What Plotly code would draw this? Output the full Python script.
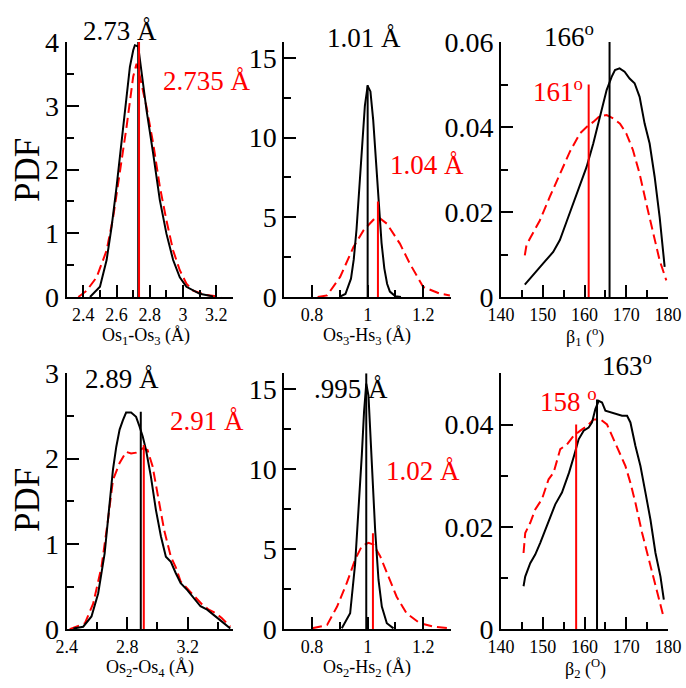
import plotly.graph_objects as go

# ---------------- data ----------------
# Panel 1: Os1-Os3
p1_black_x = [2.44, 2.50, 2.54, 2.57, 2.60, 2.63, 2.66, 2.68, 2.70, 2.71, 2.73, 2.75, 2.78, 2.82, 2.86, 2.90, 2.94, 2.98, 3.02, 3.10, 3.18]
p1_black_y = [0.0, 0.16, 0.58, 1.10, 1.73, 2.41, 3.09, 3.61, 3.87, 3.95, 3.93, 3.50, 2.93, 2.25, 1.52, 0.99, 0.58, 0.31, 0.16, 0.05, 0.01]
p1_red_x = [2.37, 2.42, 2.48, 2.54, 2.58, 2.62, 2.66, 2.70, 2.72, 2.74, 2.78, 2.82, 2.86, 2.90, 2.94, 2.98, 3.02, 3.06, 3.14, 3.23]
p1_red_y = [0.0, 0.10, 0.31, 0.73, 1.26, 1.94, 2.67, 3.46, 3.66, 3.46, 2.98, 2.41, 1.73, 1.20, 0.73, 0.42, 0.21, 0.10, 0.03, 0.0]

# Panel 2: Os3-Hs3
p2_black_x = [0.90, 0.92, 0.94, 0.95, 0.96, 0.97, 0.98, 0.99, 1.00, 1.01, 1.02, 1.03, 1.04, 1.05, 1.06, 1.07, 1.08, 1.10, 1.12]
p2_black_y = [0.02, 0.19, 1.15, 2.36, 4.25, 6.8, 9.6, 12.0, 13.25, 12.9, 11.1, 8.5, 5.7, 3.4, 1.8, 0.83, 0.34, 0.04, 0.0]
p2_red_x = [0.82, 0.854, 0.901, 0.949, 0.985, 1.021, 1.040, 1.069, 1.116, 1.152, 1.20, 1.26, 1.296]
p2_red_y = [0.0, 0.10, 1.26, 3.14, 4.18, 4.85, 5.0, 4.6, 3.35, 2.09, 0.63, 0.21, 0.10]

# Panel 3: beta1
p3_black_x = [145.7, 146.9, 148.5, 150.1, 152.5, 154.1, 155.7, 157.3, 158.9, 160.5, 162.1, 163.7, 165.3, 166.5, 167.3, 168.4, 169.6, 170.8, 172.0, 173.2, 174.4, 175.6, 176.8, 178.0, 179.2]
p3_black_y = [0.0029, 0.0043, 0.0063, 0.0079, 0.0106, 0.0134, 0.0177, 0.0220, 0.0259, 0.0306, 0.0361, 0.0424, 0.0487, 0.0518, 0.0534, 0.0538, 0.0530, 0.0514, 0.0503, 0.0471, 0.0408, 0.0361, 0.0283, 0.0188, 0.0071]
p3_red_x = [145.7, 146.1, 146.9, 149.3, 151.7, 154.1, 156.5, 158.9, 160.5, 162.1, 163.7, 165.3, 166.9, 168.5, 170.0, 171.6, 173.2, 174.8, 176.4, 178.0, 179.6]
p3_red_y = [0.0098, 0.0122, 0.0137, 0.0180, 0.0236, 0.0290, 0.0342, 0.0385, 0.0400, 0.0412, 0.0426, 0.0428, 0.0420, 0.0408, 0.0385, 0.0346, 0.0290, 0.0220, 0.0149, 0.0086, 0.0039]

# Panel 4: Os2-Os4
p4_black_x = [2.444, 2.509, 2.564, 2.608, 2.651, 2.684, 2.706, 2.728, 2.75, 2.772, 2.793, 2.826, 2.859, 2.881, 2.903, 2.925, 2.957, 2.99, 3.023, 3.056, 3.089, 3.121, 3.154, 3.198, 3.241, 3.285, 3.329, 3.373, 3.427, 3.482]
p4_black_y = [0.01, 0.03, 0.15, 0.42, 0.89, 1.44, 1.87, 2.14, 2.34, 2.45, 2.54, 2.54, 2.49, 2.38, 2.26, 2.10, 1.79, 1.40, 1.09, 0.85, 0.79, 0.66, 0.54, 0.46, 0.36, 0.27, 0.23, 0.17, 0.09, 0.01]
p4_red_x = [2.42, 2.466, 2.52, 2.575, 2.63, 2.673, 2.706, 2.75, 2.793, 2.826, 2.859, 2.903, 2.935, 2.968, 3.001, 3.045, 3.089, 3.121, 3.154, 3.198, 3.252, 3.296, 3.34, 3.384, 3.427, 3.482]
p4_red_y = [0.0, 0.03, 0.07, 0.30, 0.73, 1.28, 1.75, 1.95, 2.08, 2.06, 2.07, 2.12, 2.10, 1.91, 1.59, 1.16, 0.85, 0.73, 0.56, 0.48, 0.38, 0.29, 0.23, 0.19, 0.13, 0.03]

# Panel 5: Os2-Hs2
p5_black_x = [0.907, 0.937, 0.955, 0.967, 0.979, 0.987, 0.995, 1.003, 1.015, 1.027, 1.039, 1.051, 1.069, 1.093]
p5_black_y = [0.06, 1.0, 4.1, 7.3, 10.9, 13.6, 15.35, 14.6, 10.4, 6.2, 3.1, 1.42, 0.38, 0.06]
p5_red_x = [0.80, 0.854, 0.89, 0.925, 0.955, 0.979, 1.003, 1.021, 1.045, 1.075, 1.104, 1.14, 1.188, 1.236, 1.296]
p5_red_y = [0.06, 0.27, 1.42, 2.9, 4.36, 5.2, 5.4, 5.3, 4.57, 3.31, 2.05, 1.0, 0.38, 0.17, 0.06]

# Panel 6: beta2
p6_black_x = [145.4, 145.8, 147.0, 148.2, 149.4, 150.6, 151.8, 153.0, 154.6, 156.3, 157.5, 158.6, 159.8, 161.0, 161.8, 162.6, 163.4, 164.2, 165.0, 166.2, 167.4, 169.0, 170.2, 171.0, 172.2, 173.4, 174.6, 175.8, 177.0, 178.2, 179.0]
p6_black_y = [0.0084, 0.0103, 0.0129, 0.0146, 0.0169, 0.0195, 0.0221, 0.0244, 0.0267, 0.0306, 0.0339, 0.0371, 0.0388, 0.0394, 0.0404, 0.0430, 0.0446, 0.0443, 0.0427, 0.0424, 0.0420, 0.0417, 0.0417, 0.0404, 0.0358, 0.0319, 0.0267, 0.0214, 0.0149, 0.0103, 0.0058]
p6_red_x = [145.4, 145.8, 147.0, 148.2, 149.8, 151.4, 152.6, 154.2, 155.8, 157.4, 159.0, 160.6, 162.2, 163.8, 165.4, 167.0, 168.6, 169.8, 171.0, 172.2, 173.8, 175.4, 177.0, 178.2, 179.0]
p6_red_y = [0.0149, 0.0188, 0.0208, 0.0234, 0.0254, 0.0293, 0.0306, 0.0352, 0.0361, 0.0378, 0.0388, 0.0397, 0.0410, 0.0410, 0.0400, 0.0371, 0.0339, 0.0319, 0.0286, 0.0247, 0.0188, 0.0136, 0.0084, 0.0044, 0.0022]

# Vertical marker lines: (position, height) per panel
black_marks = [(2.73, 4.0), (1.0, 13.3), (166.0, 0.06), (2.89, 2.55), (0.995, 16.0), (163.0, 0.0449)]
red_marks = [(2.735, 4.0), (1.037, 6.0), (161.0, 0.05), (2.91, 2.16), (1.019, 6.0), (158.0, 0.04)]

black_labels = ["2.73 Å", "1.01 Å", "166<sup>o</sup>", "2.89 Å", ".995 Å", "163<sup>o</sup>"]
red_labels = ["2.735 Å", "1.04 Å", "161<sup>o</sup>", "2.91 Å", "1.02 Å", "158 <sup>o</sup>"]
x_titles = ["Os<sub>1</sub>-Os<sub>3</sub> (Å)", "Os<sub>3</sub>-Hs<sub>3</sub> (Å)", "β<sub>1</sub> (<sup>o</sup>)",
            "Os<sub>2</sub>-Os<sub>4</sub> (Å)", "Os<sub>2</sub>-Hs<sub>2</sub> (Å)", "β<sub>2</sub> (<sup>O</sup>)"]

x_ranges = [[2.3, 3.3], [0.7, 1.3], [140, 180], [2.4, 3.5], [0.7, 1.3], [140, 180]]
x_dticks = [(2.4, 0.2, 0.1), (0.8, 0.2, 0.1), (140, 10, 5), (2.4, 0.4, 0.2), (0.8, 0.2, 0.1), (140, 10, 5)]
y_ranges = [[0, 4], [0, 16], [0, 0.06], [0, 3], [0, 16], [0, 0.05]]
y_dticks = [(1, 0.5), (5, 2.5), (0.02, 0.01), (1, 0.5), (5, 2.5), (0.02, 0.01)]

# ---------------- figure ----------------
W, H = 686, 688
FONT = "Liberation Serif"
x_px = [(66.7, 233.0), (284.3, 451.0), (501.0, 668.0)]
y_px = [(42.0, 297.0), (373.3, 629.3)]

curves = [
    (p1_black_x, p1_black_y, p1_red_x, p1_red_y),
    (p2_black_x, p2_black_y, p2_red_x, p2_red_y),
    (p3_black_x, p3_black_y, p3_red_x, p3_red_y),
    (p4_black_x, p4_black_y, p4_red_x, p4_red_y),
    (p5_black_x, p5_black_y, p5_red_x, p5_red_y),
    (p6_black_x, p6_black_y, p6_red_x, p6_red_y),
]

fig = go.Figure()
layout = dict(template="none", width=W, height=H,
              margin=dict(l=0, r=0, t=0, b=0, pad=0, autoexpand=False),
              paper_bgcolor="white", plot_bgcolor="white", showlegend=False,
              font=dict(family=FONT, color="black"))

for i in range(6):
    r, c = divmod(i, 3)
    n = "" if i == 0 else str(i + 1)
    xa, ya = "x" + n, "y" + n
    bx, by, rx, ry = curves[i]
    fig.add_trace(go.Scatter(x=rx, y=ry, mode="lines", xaxis=xa, yaxis=ya,
                             line=dict(color="#ff0000", width=2, dash="10px,5px")))
    fig.add_trace(go.Scatter(x=bx, y=by, mode="lines", xaxis=xa, yaxis=ya,
                             line=dict(color="black", width=2)))
    bm, rm = black_marks[i], red_marks[i]
    fig.add_trace(go.Scatter(x=[bm[0], bm[0]], y=[0, bm[1]], mode="lines", xaxis=xa, yaxis=ya,
                             line=dict(color="black", width=2)))
    fig.add_trace(go.Scatter(x=[rm[0], rm[0]], y=[0, rm[1]], mode="lines", xaxis=xa, yaxis=ya,
                             line=dict(color="#ff0000", width=2)))
    x0, x1 = x_px[c]
    y0, y1 = y_px[r]
    t0, dt, mdt = x_dticks[i]
    ydt, ymdt = y_dticks[i]
    layout["xaxis" + n] = dict(domain=[x0 / W, x1 / W], range=x_ranges[i], anchor=ya, automargin=False,
                               showline=True, linewidth=2, linecolor="black", showgrid=False, zeroline=False,
                               ticks="inside", ticklen=12, tickwidth=2, tickcolor="black",
                               tick0=t0, dtick=dt, tickfont=dict(size=18, family=FONT, color="black"),
                               minor=dict(ticks="inside", ticklen=7, tickwidth=2, tickcolor="black",
                                          dtick=mdt, tick0=t0, showgrid=False))
    layout["yaxis" + n] = dict(domain=[1 - y1 / H, 1 - y0 / H], range=y_ranges[i], anchor=xa, automargin=False,
                               showline=True, linewidth=2, linecolor="black", showgrid=False, zeroline=False,
                               ticks="inside", ticklen=12, tickwidth=2, tickcolor="black",
                               tick0=0, dtick=ydt, tickfont=dict(size=28, family=FONT, color="black"),
                               minor=dict(ticks="inside", ticklen=7, tickwidth=2, tickcolor="black",
                                          dtick=ymdt, tick0=0, showgrid=False))

annotations = []
def ann(text, px, py, size, color="black", angle=0):
    annotations.append(dict(text=text, x=px / W, y=1 - py / H, xref="paper", yref="paper",
                            xanchor="center", yanchor="middle", showarrow=False, textangle=angle,
                            font=dict(size=size, color=color, family=FONT)))

black_pos = [(120, 31), (364, 38), (569, 35), (122, 379), (351, 389), (627, 364)]
red_pos = [(207, 81), (427, 165), (558, 90), (207, 421), (423, 471), (568, 400)]
for i in range(6):
    ann(black_labels[i], black_pos[i][0], black_pos[i][1], 27, "black")
    ann(red_labels[i], red_pos[i][0], red_pos[i][1], 27, "#ff0000")

title_pos = [(146, 336), (367, 336), (585, 336), (150, 668), (367, 668), (585, 668)]
for i in range(6):
    ann(x_titles[i], title_pos[i][0], title_pos[i][1], 18)
ann("PDF", 27, 170, 35, angle=-90)
ann("PDF", 27, 500, 35, angle=-90)

layout["annotations"] = annotations
fig.update_layout(**layout)
fig.write_html("out.html")
